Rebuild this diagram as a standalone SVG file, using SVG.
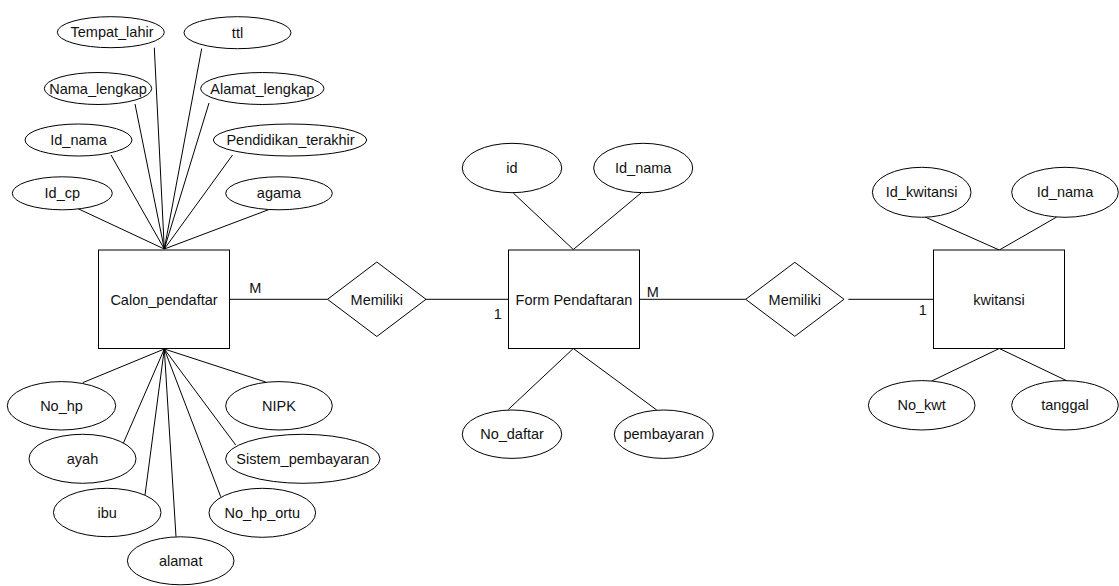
<svg xmlns="http://www.w3.org/2000/svg" width="1119" height="586" viewBox="0 0 1119 586">
<style>
.s{fill:#fff;stroke:#000;stroke-width:1}
.c line{stroke:#000;stroke-width:1}
text{font-family:"Liberation Sans",Arial,sans-serif;font-size:14.5px;fill:#111;text-anchor:middle}
</style>
<rect width="1119" height="586" fill="#fff"/>
<g id="connectors" class="c">
<line x1="154.3" y1="47.7" x2="164.3" y2="249"/>
<line x1="201.7" y1="48.5" x2="164.3" y2="249"/>
<line x1="135" y1="104" x2="164.3" y2="249"/>
<line x1="209" y1="103" x2="164.3" y2="249"/>
<line x1="111" y1="155" x2="164.3" y2="249"/>
<line x1="232.5" y1="155" x2="164.3" y2="249"/>
<line x1="77.7" y1="208.5" x2="164.3" y2="249"/>
<line x1="271.7" y1="208.5" x2="164.3" y2="249"/>
<line x1="82.7" y1="382.7" x2="164.3" y2="349"/>
<line x1="123.3" y1="443.3" x2="164.3" y2="349"/>
<line x1="145" y1="495" x2="164.3" y2="349"/>
<line x1="176" y1="536.7" x2="164.3" y2="349"/>
<line x1="265.7" y1="382" x2="164.3" y2="349"/>
<line x1="235.7" y1="445" x2="164.3" y2="349"/>
<line x1="220.7" y1="496.7" x2="164.3" y2="349"/>
<line x1="229.7" y1="299.3" x2="327.5" y2="299.3"/>
<line x1="426" y1="299.3" x2="508.3" y2="299.3"/>
<line x1="639.3" y1="299.3" x2="745.7" y2="299.3"/>
<line x1="848.3" y1="299.3" x2="933.3" y2="299.3"/>
<line x1="513.3" y1="193" x2="573.3" y2="249.5"/>
<line x1="641" y1="193" x2="573.3" y2="249.5"/>
<line x1="508.3" y1="409.5" x2="573.3" y2="348.5"/>
<line x1="656.7" y1="410" x2="573.3" y2="348.5"/>
<line x1="925" y1="217" x2="999.3" y2="250"/>
<line x1="1056.7" y1="217" x2="999.3" y2="250"/>
<line x1="931.7" y1="381" x2="999.3" y2="348.5"/>
<line x1="1067.3" y1="381" x2="999.3" y2="348.5"/>
</g>
<g id="calon_pendaftar"><rect class="s" x="98.5" y="250" width="131" height="98.5"/><text x="164" y="304.5">Calon_pendaftar</text></g>
<g id="form_pendaftaran"><rect class="s" x="508.5" y="250" width="131" height="98.5"/><text x="574" y="304.5">Form Pendaftaran</text></g>
<g id="kwitansi"><rect class="s" x="933.5" y="250" width="131" height="98.5"/><text x="999" y="304.5">kwitansi</text></g>
<g id="memiliki1"><polygon class="s" points="327.5,299.3 376.8,262 426,299.3 376.8,336.5"/><text x="376.8" y="304.5">Memiliki</text></g>
<g id="memiliki2"><polygon class="s" points="745.7,299.3 794.8,262.3 844,299.3 794.8,336.3"/><text x="794.8" y="304.5">Memiliki</text></g>
<g id="card-labels">
<text x="255.3" y="292.7">M</text>
<text x="497.7" y="319.3">1</text>
<text x="652.7" y="296.7">M</text>
<text x="922.7" y="315">1</text>
</g>
<g id="a_tempat_lahir"><ellipse class="s" cx="110.8" cy="32.2" rx="53.5" ry="15.5"/><text x="112" y="37.2">Tempat_lahir</text></g>
<g id="a_ttl"><ellipse class="s" cx="237.5" cy="32.7" rx="53.5" ry="16"/><text x="237.5" y="37.7">ttl</text></g>
<g id="a_nama_lengkap"><ellipse class="s" cx="98" cy="88.5" rx="53.7" ry="16"/><text x="98" y="93.5">Nama_lengkap</text></g>
<g id="a_alamat_lengkap"><ellipse class="s" cx="262.3" cy="88.5" rx="61.7" ry="16"/><text x="262.3" y="93.5">Alamat_lengkap</text></g>
<g id="a_id_nama1"><ellipse class="s" cx="78.5" cy="140" rx="53.5" ry="16"/><text x="78.5" y="145">Id_nama</text></g>
<g id="a_pendidikan"><ellipse class="s" cx="290" cy="140" rx="76.7" ry="16"/><text x="290.5" y="145">Pendidikan_terakhir</text></g>
<g id="a_id_cp"><ellipse class="s" cx="62.3" cy="193.3" rx="50" ry="16.5"/><text x="62.3" y="198.3">Id_cp</text></g>
<g id="a_agama"><ellipse class="s" cx="279" cy="193.3" rx="53.3" ry="16.5"/><text x="279" y="198.3">agama</text></g>
<g id="a_no_hp"><ellipse class="s" cx="61.5" cy="405.8" rx="54.2" ry="24.2"/><text x="61.5" y="410.8">No_hp</text></g>
<g id="a_ayah"><ellipse class="s" cx="82.5" cy="458.8" rx="53.5" ry="24.5"/><text x="82.5" y="463.8">ayah</text></g>
<g id="a_ibu"><ellipse class="s" cx="107.2" cy="512.5" rx="53.8" ry="24.2"/><text x="107.2" y="517.5">ibu</text></g>
<g id="a_alamat"><ellipse class="s" cx="180.7" cy="560.8" rx="53.3" ry="24"/><text x="180.7" y="565.8">alamat</text></g>
<g id="a_nipk"><ellipse class="s" cx="279" cy="405.8" rx="53.3" ry="24.2"/><text x="279" y="410.8">NIPK</text></g>
<g id="a_sistem_pembayaran"><ellipse class="s" cx="302.8" cy="458.8" rx="77.2" ry="24.5"/><text x="302.8" y="463.8">Sistem_pembayaran</text></g>
<g id="a_no_hp_ortu"><ellipse class="s" cx="262.3" cy="512.8" rx="53.3" ry="24.5"/><text x="262.3" y="517.8">No_hp_ortu</text></g>
<g id="a_id"><ellipse class="s" cx="512" cy="168" rx="49.7" ry="24.7"/><text x="512" y="173">id</text></g>
<g id="a_id_nama2"><ellipse class="s" cx="643.2" cy="168" rx="49.5" ry="24.7"/><text x="643.2" y="173">Id_nama</text></g>
<g id="a_no_daftar"><ellipse class="s" cx="512" cy="434.2" rx="49.7" ry="24.2"/><text x="512" y="439.2">No_daftar</text></g>
<g id="a_pembayaran"><ellipse class="s" cx="663.8" cy="434.2" rx="49.5" ry="24.2"/><text x="663.8" y="439.2">pembayaran</text></g>
<g id="a_id_kwitansi"><ellipse class="s" cx="921.7" cy="192.3" rx="49.3" ry="25"/><text x="921.7" y="197.3">Id_kwitansi</text></g>
<g id="a_id_nama3"><ellipse class="s" cx="1065" cy="192.3" rx="53.3" ry="25"/><text x="1065" y="197.3">Id_nama</text></g>
<g id="a_no_kwt"><ellipse class="s" cx="921.7" cy="405.3" rx="53.3" ry="24.7"/><text x="921.7" y="410.3">No_kwt</text></g>
<g id="a_tanggal"><ellipse class="s" cx="1065" cy="405.3" rx="53.3" ry="24.7"/><text x="1065" y="410.3">tanggal</text></g>
</svg>
